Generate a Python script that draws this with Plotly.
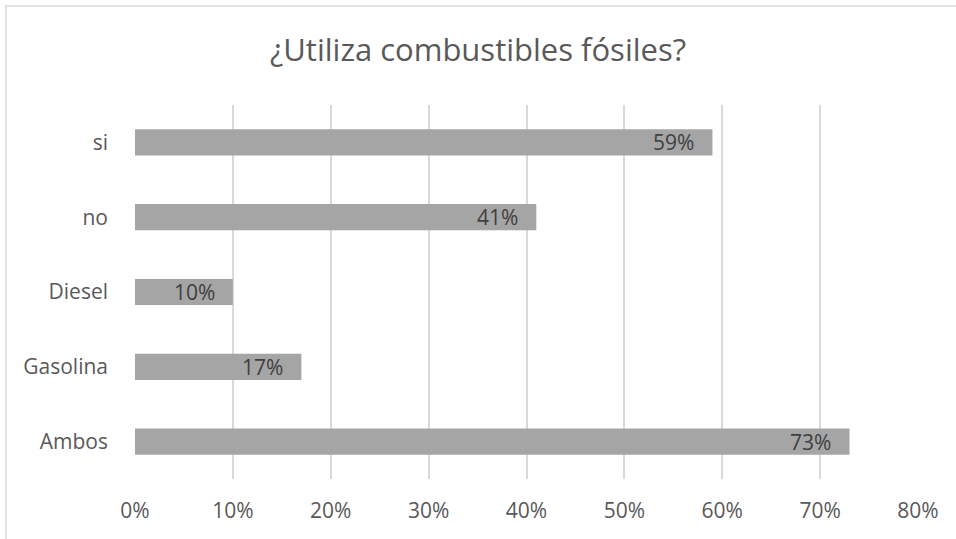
import plotly.graph_objects as go

categories = ["si", "no", "Diesel", "Gasolina", "Ambos"]
values = [0.59, 0.41, 0.10, 0.17, 0.73]
labels = ["59%", "41%", "10%", "17%", "73%"]
tick_vals = [0, 0.1, 0.2, 0.3, 0.4, 0.5, 0.6, 0.7, 0.8]
tick_text = ["0%", "10%", "20%", "30%", "40%", "50%", "60%", "70%", "80%"]

FONT = "Open Sans, Liberation Sans, sans-serif"

fig = go.Figure(go.Bar(
    y=categories, x=values, orientation="h",
    marker=dict(color="#a5a5a5", line=dict(width=0)),
    width=0.35, hoverinfo="x+y",
))

for cat, val, lab in zip(categories, values, labels):
    fig.add_annotation(x=val, y=cat, xref="x", yref="y", text=lab,
                       showarrow=False, xanchor="right", yanchor="middle",
                       xshift=-16,
                       font=dict(family=FONT, size=21, color="#404040"))

L, R, T, B = 135, 38, 105, 60
W, H = 956, 539
pw, ph = W - L - R, H - T - B

fig.update_layout(
    width=W, height=H,
    margin=dict(l=L, r=R, t=T, b=B),
    paper_bgcolor="white", plot_bgcolor="white",
    showlegend=False,
    title=dict(text="¿Utiliza combustibles fósiles?", x=(478 - L) / pw, xref="paper",
               xanchor="center",
               y=1 - 50 / H, yanchor="middle",
               font=dict(family=FONT, size=31, color="#595959")),
    xaxis=dict(range=[0, 0.8], tickvals=tick_vals, ticktext=tick_text,
               showgrid=True, gridcolor="#d9d9d9", gridwidth=1.5,
               zeroline=False, showline=False, ticks="",
               ticklabelstandoff=17,
               tickfont=dict(family=FONT, size=21, color="#595959")),
    yaxis=dict(categoryorder="array", categoryarray=categories[::-1],
               showgrid=False, zeroline=False, showline=False, ticks="",
               ticklabelstandoff=26,
               tickfont=dict(family=FONT, size=21, color="#595959")),
    shapes=[dict(type="rect", xref="paper", yref="paper",
                 x0=(6 - L) / pw, x1=(W + 10 - L) / pw,
                 y0=-(B + 10) / ph, y1=(H - 6 - B) / ph,
                 line=dict(color="#d9d9d9", width=1.5), fillcolor="rgba(0,0,0,0)")],
)

fig.write_html("out.html")
